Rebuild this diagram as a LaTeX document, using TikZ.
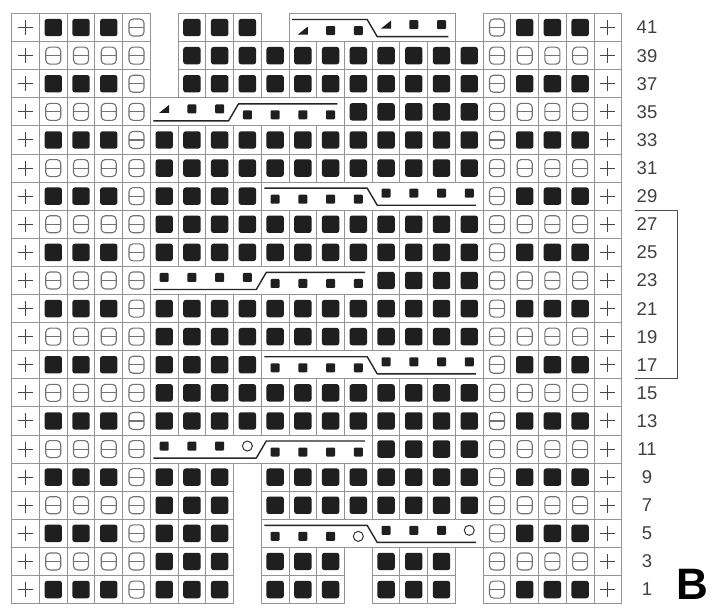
\documentclass[tikz,border=0pt]{standalone}
\usepackage{fontspec}
\setmainfont{Liberation Sans}
\def\XO{11.7}\def\CW{27.73}\def\YO{13.5}\def\RH{28.1}
\newcommand\setcc[2]{\pgfmathsetmacro\cx{\XO+(#1-0.5)*\CW}\pgfmathsetmacro\cy{\YO+((41-#2)/2+0.5)*\RH}}
\newcommand\gridcell[2]{\setcc{#1}{#2}\draw[gridline] (\cx-\CW/2,\cy-\RH/2) rectangle (\cx+\CW/2,\cy+\RH/2);}
\newcommand\knitsq[2]{\gridcell{#1}{#2}\fill[knit] (\cx-8.7,\cy-8.7) rectangle (\cx+8.7,\cy+8.7);}
\newcommand\purlsq[2]{\gridcell{#1}{#2}\draw[purl,rounded corners=4pt] (\cx-7.5,\cy-8.5) rectangle (\cx+7.5,\cy+8.5);\draw[purl] (\cx-7.5,\cy) -- (\cx+7.5,\cy);}
\newcommand\plussq[2]{\gridcell{#1}{#2}\draw[plussign] (\cx-7.5,\cy) -- (\cx+7.5,\cy) (\cx,\cy-7.5) -- (\cx,\cy+7.5);}
\newcommand\cablebox[3]{\setcc{#2}{#1}\pgfmathsetmacro\xa{\cx-\CW/2}\setcc{#3}{#1}\pgfmathsetmacro\xb{\cx+\CW/2}\pgfmathsetmacro\yt{\cy-\RH/2}\pgfmathsetmacro\yb{\cy+\RH/2}\draw[gridline] (\xa,\yt) rectangle (\xb,\yb);}
\newcommand\cableback[4]{\cablebox{#1}{#2}{#3}\pgfmathsetmacro\xs{\XO+#4*\CW}\draw[cableline] (\xa+3,\yt+6) -- (\xs-5,\yt+6) -- (\xs+5,\yb-5) -- (\xb-7,\yb-5);}
\newcommand\cablefwd[4]{\cablebox{#1}{#2}{#3}\pgfmathsetmacro\xs{\XO+#4*\CW}\draw[cableline] (\xa+3,\yb-5) -- (\xs-5,\yb-5) -- (\xs+5,\yt+6) -- (\xb-7,\yt+6);}
\newcommand\smsq[3]{\setcc{#1}{#2}\pgfmathsetmacro\yy{\cy+(#3)}\fill[knit,rounded corners=1pt] (\cx-4.5,\yy-4.5) rectangle (\cx+4.5,\yy+4.5);}
\newcommand\dectri[3]{\setcc{#1}{#2}\pgfmathsetmacro\yy{\cy+(#3)}\fill[knit,rounded corners=0pt] (\cx-5,\yy+4) -- (\cx+5,\yy+4) -- (\cx+5,\yy-4) -- cycle;}
\newcommand\yarnov[3]{\setcc{#1}{#2}\pgfmathsetmacro\yy{\cy+(#3)}\draw[black!80,line width=1pt] (\cx,\yy) circle (5);}
\begin{document}
\begin{tikzpicture}[x=1pt,y=-1pt,
  gridline/.style={draw=black!42,line width=0.9pt},
  knit/.style={fill=black!88,rounded corners=2.5pt},
  purl/.style={draw=black!55,line width=1.1pt},
  plussign/.style={draw=black!72,line width=1pt},
  cableline/.style={draw=black!85,line width=1.4pt,line join=round},
  lab/.style={font=\fontsize{18.5}{18.5}\selectfont,text=black!75}]
\useasboundingbox[fill=white] (0,0) rectangle (715,610);
% side panels
\foreach \r in {1,3,...,41} {
  \plussq{1}{\r}\plussq{22}{\r}
  \purlsq{5}{\r}\purlsq{18}{\r}
  \pgfmathtruncatemacro\m{mod(\r,4)}
  \ifnum\m=1
    \foreach \c in {2,3,4,19,20,21} {\knitsq{\c}{\r}}
  \else
    \foreach \c in {2,3,4,19,20,21} {\purlsq{\c}{\r}}
  \fi
}
% central knit stitches
\foreach \r/\ks in {41/{7,8,9},39/{7,...,17},37/{7,...,17},35/{13,...,17},
  33/{6,...,17},31/{6,...,17},29/{6,7,8,9},27/{6,...,17},25/{6,...,17},
  23/{14,...,17},21/{6,...,17},19/{6,...,17},17/{6,7,8,9},15/{6,...,17},
  13/{6,...,17},11/{14,...,17},9/{6,7,8,10,11,12,13,14,15,16,17},
  7/{6,7,8,10,11,12,13,14,15,16,17},5/{6,7,8},
  3/{6,7,8,10,11,12,14,15,16},1/{6,7,8,10,11,12,14,15,16}} {
  \foreach \c in \ks {\knitsq{\c}{\r}}
}
% cables
\cableback{41}{11}{16}{13}
\dectri{11}{41}{3}\smsq{12}{41}{3}\smsq{13}{41}{3}
\dectri{14}{41}{-3}\smsq{15}{41}{-3}\smsq{16}{41}{-3}
\cablefwd{35}{6}{12}{8}
\dectri{6}{35}{-3}\smsq{7}{35}{-3}\smsq{8}{35}{-3}
\foreach \c in {9,...,12} {\smsq{\c}{35}{3}}
\foreach \r in {29,17} {
  \cableback{\r}{10}{17}{13}
  \foreach \c in {10,...,13} {\smsq{\c}{\r}{3}}
  \foreach \c in {14,...,17} {\smsq{\c}{\r}{-3}}
}
\cablefwd{23}{6}{13}{9}
\foreach \c in {6,...,9} {\smsq{\c}{23}{-3}}
\foreach \c in {10,...,13} {\smsq{\c}{23}{3}}
\cablefwd{11}{6}{13}{9}
\foreach \c in {6,7,8} {\smsq{\c}{11}{-3}}
\yarnov{9}{11}{-3}
\foreach \c in {10,...,13} {\smsq{\c}{11}{3}}
\cableback{5}{10}{17}{13}
\foreach \c in {10,11,12} {\smsq{\c}{5}{3}}
\yarnov{13}{5}{3}
\foreach \c in {14,15,16} {\smsq{\c}{5}{-3}}
\yarnov{17}{5}{-3}
% row labels
\foreach \r in {1,3,...,41} {
  \setcc{1}{\r}
  \node[lab] (l\r) at (647,\cy) {\r};
}
% repeat bracket
\coordinate (bt) at (635,{\YO+7*\RH});
\coordinate (bb) at (635,{\YO+13*\RH});
\draw[black!70,line width=1pt] (bt) -- ++(42,0) |- (bb);
\node[font=\bfseries\fontsize{44}{44}\selectfont,anchor=base,inner sep=1pt] (B) at (692,599) {B};
\end{tikzpicture}
\end{document}
